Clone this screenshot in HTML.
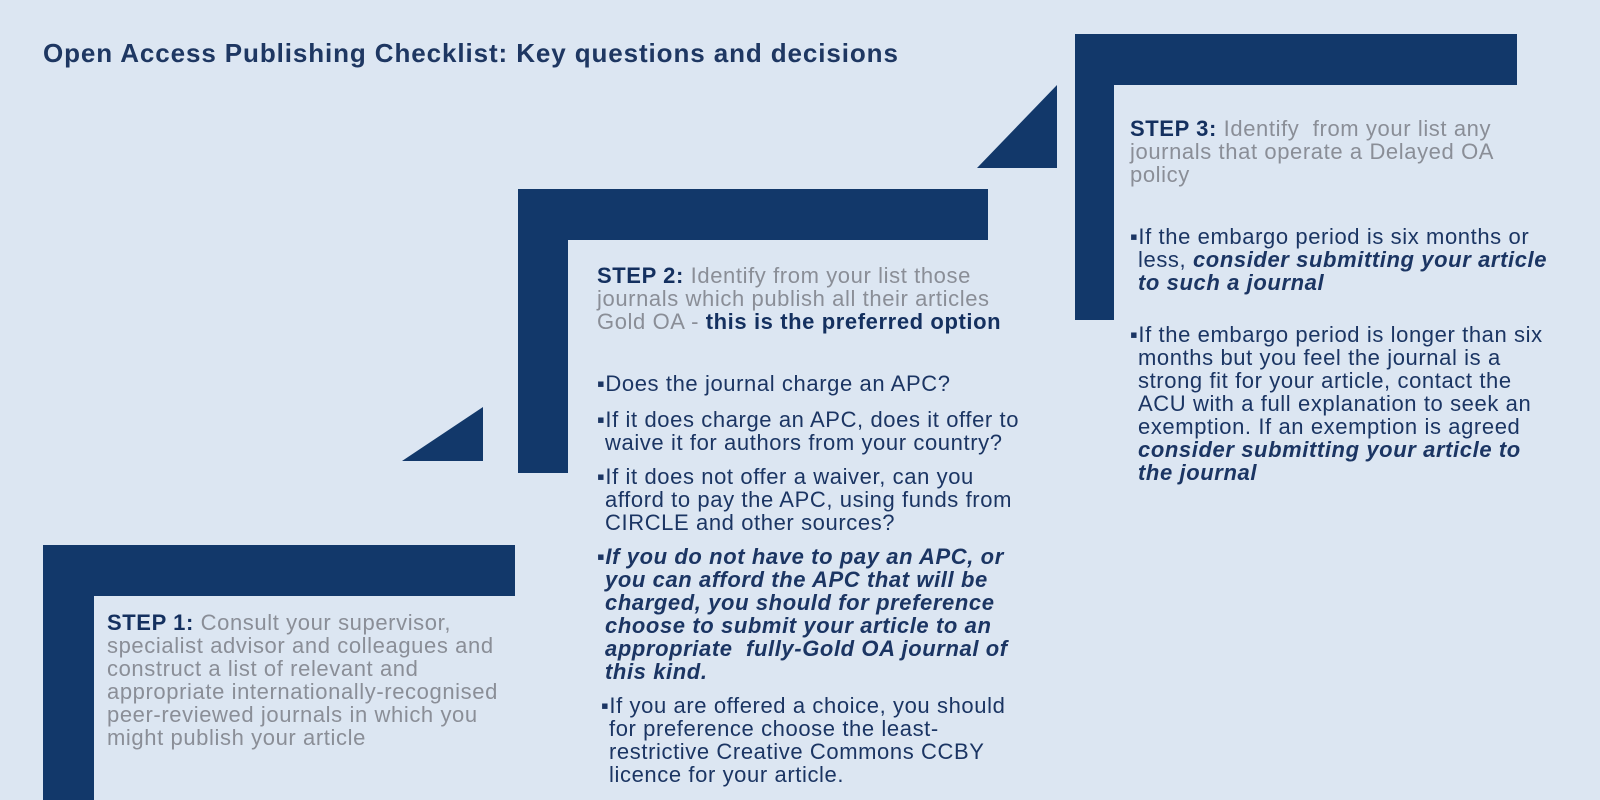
<!DOCTYPE html>
<html><head><meta charset="utf-8">
<style>
body{margin:0;width:1600px;height:800px;background:#dce6f2;position:relative;overflow:hidden;font-family:"Liberation Sans",Arial,sans-serif;}
.b{position:absolute;background:#12386a;}
.t{position:absolute;font-size:22px;line-height:23px;white-space:nowrap;letter-spacing:0.6px;color:#1b3563;}
.g{color:#8a8e97;}
.n{color:#14305f;font-weight:bold;}
i{font-weight:bold;}
</style></head><body>
<div style="position:absolute;left:43px;top:38px;font-size:26px;font-weight:bold;color:#1e3762;letter-spacing:0.9px">Open Access Publishing Checklist: Key questions and decisions</div>

<svg width="1600" height="800" style="position:absolute;left:0;top:0">
<polygon points="483,407 483,461 402,461" fill="#12386a"/>
<polygon points="1057,85 1057,168 977,168" fill="#12386a"/>
</svg>

<div class="b" style="left:43px;top:545px;width:472px;height:51px"></div>
<div class="b" style="left:43px;top:545px;width:51px;height:255px"></div>
<div class="b" style="left:518px;top:189px;width:470px;height:51px"></div>
<div class="b" style="left:518px;top:189px;width:50px;height:284px"></div>
<div class="b" style="left:1075px;top:34px;width:442px;height:51px"></div>
<div class="b" style="left:1075px;top:34px;width:39px;height:286px"></div>

<div>
<div class="t g" style="left:107px;top:611px"><span class="n">STEP 1:</span> Consult your supervisor,</div>
<div class="t g" style="left:107px;top:634px">specialist advisor and colleagues and</div>
<div class="t g" style="left:107px;top:657px">construct a list of relevant and</div>
<div class="t g" style="left:107px;top:680px">appropriate internationally-recognised</div>
<div class="t g" style="left:107px;top:703px">peer-reviewed journals in which you</div>
<div class="t g" style="left:107px;top:726px">might publish your article</div>
</div>

<div>
<div class="t g" style="left:597px;top:264px"><span class="n">STEP 2:</span> Identify from your list those</div>
<div class="t g" style="left:597px;top:287px">journals which publish all their articles</div>
<div class="t g" style="left:597px;top:310px">Gold OA - <b style="color:#14305f">this is the preferred option</b></div>
<div class="t" style="left:597px;top:372px">▪Does the journal charge an APC?</div>
<div class="t" style="left:597px;top:408px">▪If it does charge an APC, does it offer to</div>
<div class="t" style="left:605px;top:431px">waive it for authors from your country?</div>
<div class="t" style="left:597px;top:465px">▪If it does not offer a waiver, can you</div>
<div class="t" style="left:605px;top:488px">afford to pay the APC, using funds from</div>
<div class="t" style="left:605px;top:511px">CIRCLE and other sources?</div>
<div class="t" style="left:597px;top:545px">▪<i>If you do not have to pay an APC, or</i></div>
<div class="t" style="left:605px;top:568px"><i>you can afford the APC that will be</i></div>
<div class="t" style="left:605px;top:591px"><i>charged, you should for preference</i></div>
<div class="t" style="left:605px;top:614px"><i>choose to submit your article to an</i></div>
<div class="t" style="left:605px;top:637px"><i>appropriate &nbsp;fully-Gold OA journal of</i></div>
<div class="t" style="left:605px;top:660px"><i>this kind.</i></div>
<div class="t" style="left:601px;top:694px">▪If you are offered a choice, you should</div>
<div class="t" style="left:609px;top:717px">for preference choose the least-</div>
<div class="t" style="left:609px;top:740px">restrictive Creative Commons CCBY</div>
<div class="t" style="left:609px;top:763px">licence for your article.</div>
</div>

<div>
<div class="t g" style="left:1130px;top:117px"><span class="n">STEP 3:</span> Identify &nbsp;from your list any</div>
<div class="t g" style="left:1130px;top:140px">journals that operate a Delayed OA</div>
<div class="t g" style="left:1130px;top:163px">policy</div>
<div class="t" style="left:1130px;top:225px">▪If the embargo period is six months or</div>
<div class="t" style="left:1138px;top:248px">less, <i>consider submitting your article</i></div>
<div class="t" style="left:1138px;top:271px"><i>to such a journal</i></div>
<div class="t" style="left:1130px;top:323px">▪If the embargo period is longer than six</div>
<div class="t" style="left:1138px;top:346px">months but you feel the journal is a</div>
<div class="t" style="left:1138px;top:369px">strong fit for your article, contact the</div>
<div class="t" style="left:1138px;top:392px">ACU with a full explanation to seek an</div>
<div class="t" style="left:1138px;top:415px">exemption. If an exemption is agreed</div>
<div class="t" style="left:1138px;top:438px"><i>consider submitting your article to</i></div>
<div class="t" style="left:1138px;top:461px"><i>the journal</i></div>
</div>
</body></html>
